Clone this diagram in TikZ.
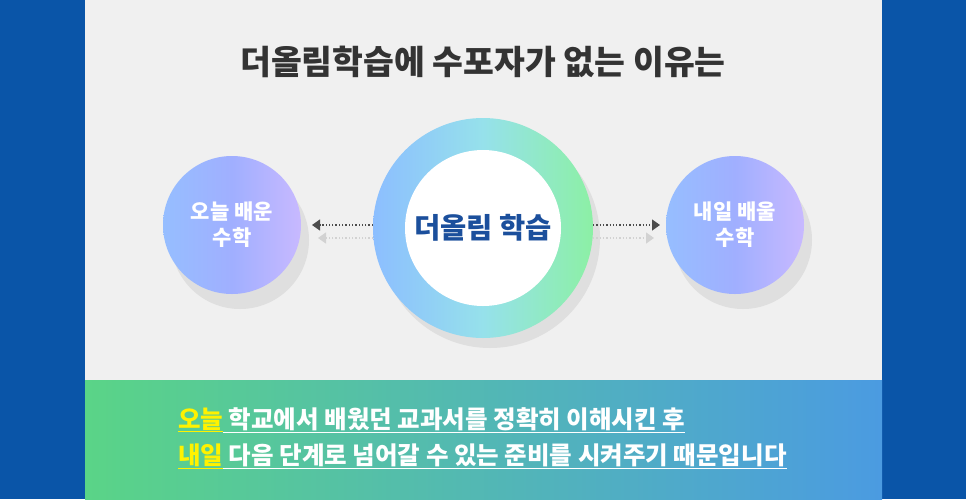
\documentclass[tikz,border=0pt]{standalone}
\usepackage{fontspec}
\setmainfont{Noto Sans CJK KR}[BoldFont={Noto Sans CJK KR Black}]
\newcommand\kb{\bfseries}
\usetikzlibrary{arrows.meta}
\definecolor{bgblue}{HTML}{0A55A8}
\definecolor{panel}{HTML}{F0F0F0}
\definecolor{ttl}{HTML}{333333}
\definecolor{dkb}{HTML}{1B4F9C}
\definecolor{yel}{HTML}{FFF200}
\begin{document}
\begin{tikzpicture}[x=1pt,y=-1pt,
 small/.style={circle,minimum size=138pt,inner sep=0pt,text=white,font=\kb\fontsize{21}{26}\selectfont,align=center},
 shad/.style={fill=gray!25,draw=none},
 arr/.style={dotted,line width=1.3pt,-{Triangle[length=8pt,width=11pt]}}]
\useasboundingbox (0,0) rectangle (966,499);
\fill[bgblue] (0,0) rectangle (966,499);
\fill[panel] (85,0) rectangle (882,380);
\shade[left color={rgb,255:red,90;green,212;blue,135},right color={rgb,255:red,75;green,155;blue,225}] (85,380) rectangle (882,499);
\node[font=\kb\fontsize{33.5}{38}\selectfont,text=ttl] (title) at (483,62) {더올림학습에 수포자가 없는 이유는};
\fill[shad] (240,240) circle (69);
\fill[shad] (743,240) circle (69);
\fill[shad] (490,238) circle (110);
\shade[left color={rgb,255:red,140;green,190;blue,255},right color={rgb,255:red,140;green,240;blue,165},middle color={rgb,255:red,150;green,225;blue,235}] (483,228) circle (110);
\node[circle,fill=white,minimum size=156pt,inner sep=0pt,text=dkb,font=\kb\fontsize{28.5}{33}\selectfont] (c) at (483,228) {더올림 학습};
\node[small,left color={rgb,255:red,150;green,190;blue,255},right color={rgb,255:red,200;green,185;blue,255},middle color={rgb,255:red,160;green,175;blue,255}] (l) at (232,225) {오늘 배운\\수학};
\node[small,left color={rgb,255:red,150;green,190;blue,255},right color={rgb,255:red,200;green,185;blue,255},middle color={rgb,255:red,160;green,175;blue,255}] (r) at (735,225) {내일 배울\\수학};
\coordinate (la) at (312,225); \coordinate (lb) at (318,238);
\coordinate (ra) at (660,225); \coordinate (rb) at (654,238);
\coordinate (c1) at (373,225); \coordinate (c2) at (373,238);
\coordinate (c3) at (593,225); \coordinate (c4) at (593,238);
\draw[arr,gray!35] (c2) -- (lb);
\draw[arr,gray!35] (c4) -- (rb);
\draw[arr,black!70] (c1) -- (la);
\draw[arr,black!70] (c3) -- (ra);
\node[anchor=base west,text=white,font=\kb\fontsize{24.5}{29}\selectfont,inner sep=0pt] (t1) at (178,428) {\textcolor{yel}{\underline{오늘}}\underline{ 학교에서 배웠던 교과서를 정확히 이해시킨 후}};
\node[anchor=base west,text=white,font=\kb\fontsize{24.5}{29}\selectfont,inner sep=0pt] (t2) at (178,464) {\textcolor{yel}{\underline{내일}}\underline{ 다음 단계로 넘어갈 수 있는 준비를 시켜주기 때문입니다}};
\end{tikzpicture}
\end{document}
